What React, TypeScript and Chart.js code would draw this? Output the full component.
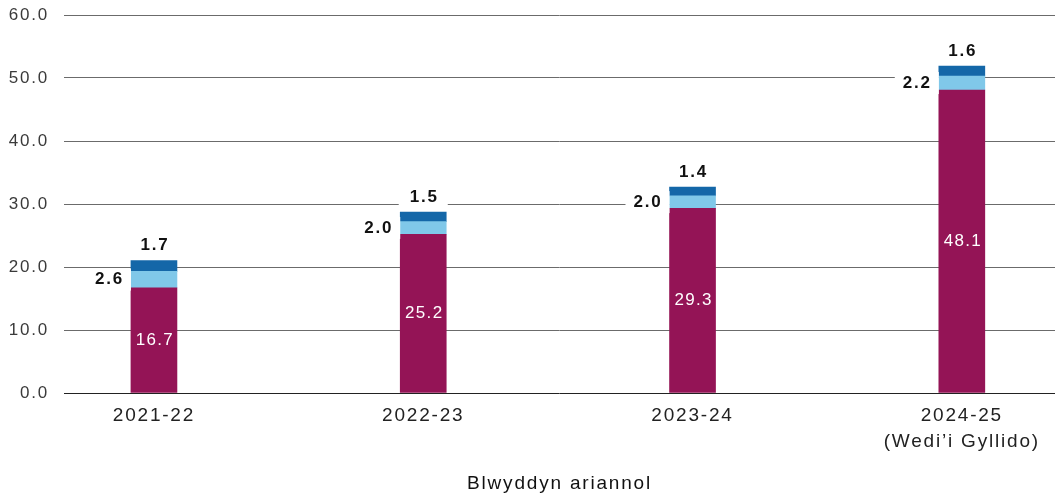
import { useEffect, useRef } from 'react';
import { Chart, registerables } from 'chart.js';

Chart.register(...registerables);

const categories: string[][] = [['2021-22'], ['2022-23'], ['2023-24'], ['2024-25', '(Wedi’i Gyllido)']];
const seriesMain = [16.7, 25.2, 29.3, 48.1];
const seriesLight = [2.6, 2.0, 2.0, 2.2];
const seriesDark = [1.7, 1.5, 1.4, 1.6];
const yTickValues = [0, 10, 20, 30, 40, 50, 60];
const xTitle = 'Blwyddyn ariannol';

const FONT = '"Liberation Sans", Arial, Helvetica, sans-serif';
const LS = '1.8px';

const spacingPlugin = {
  id: 'spacing',
  beforeLayout(chart: any) {
    chart.ctx.letterSpacing = LS;
  },
  beforeDraw(chart: any) {
    chart.ctx.letterSpacing = LS;
  },
};

const labelPlugin = {
  id: 'barLabels',
  afterDatasetsDraw(chart: any) {
    const ctx = chart.ctx as CanvasRenderingContext2D;
    ctx.save();
    (ctx as any).letterSpacing = LS;
    chart.data.datasets.forEach((ds: any, di: number) => {
      const meta = chart.getDatasetMeta(di);
      meta.data.forEach((el: any, i: number) => {
        const { x, y, base, width } = el.getProps(['x', 'y', 'base', 'width'], true);
        const v = ds.data[i].y as number;
        const text = v.toFixed(1);
        ctx.textBaseline = 'middle';
        if (di === 0) {
          (ctx as any).letterSpacing = '1.3px';
          ctx.font = `17px ${FONT}`;
          ctx.fillStyle = '#ffffff';
          ctx.textAlign = 'center';
          ctx.fillText(text, x + 1, (y + base) / 2);
          (ctx as any).letterSpacing = LS;
        } else if (di === 1) {
          ctx.font = `bold 17px ${FONT}`;
          const w = ctx.measureText(text).width;
          const tx = x - width / 2 - 7;
          const cy = (y + base) / 2;
          ctx.fillStyle = '#ffffff';
          ctx.fillRect(tx - w - 8, cy - 11, w + 15, 22);
          ctx.fillStyle = '#111111';
          ctx.textAlign = 'right';
          ctx.fillText(text, tx, cy);
        } else {
          ctx.font = `bold 17px ${FONT}`;
          const w = ctx.measureText(text).width;
          const cy = y - 15;
          ctx.fillStyle = '#ffffff';
          ctx.fillRect(x - w / 2 - 10, cy - 10, w + 20, 20);
          ctx.fillStyle = '#111111';
          ctx.textAlign = 'center';
          ctx.fillText(text, x + 1, cy);
        }
      });
    });
    ctx.restore();
  },
};

export default function App() {
  const ref = useRef<HTMLCanvasElement | null>(null);

  useEffect(() => {
    if (!ref.current) return;
    const mk = (arr: number[]) => arr.map((v, i) => ({ x: i, y: v }));
    const chart = new Chart(ref.current, {
      type: 'bar',
      data: {
        datasets: [
          { label: 'a', data: mk(seriesMain) as any, backgroundColor: '#941456', barThickness: 46 },
          { label: 'b', data: mk(seriesLight) as any, backgroundColor: '#80C8E9', barThickness: 46 },
          { label: 'c', data: mk(seriesDark) as any, backgroundColor: '#1467A8', barThickness: 46 },
        ],
      },
      options: {
        animation: false,
        responsive: true,
        maintainAspectRatio: false,
        layout: { padding: { left: 0, right: 5, top: 15, bottom: 0 } },
        plugins: {
          legend: { display: false },
          tooltip: { enabled: false },
        },
        scales: {
          x: {
            type: 'linear',
            stacked: true,
            offset: false,
            min: -0.334,
            max: 3.346,
            afterBuildTicks: (scale: any) => {
              scale.ticks = categories.map((_, i) => ({ value: i }));
            },
            afterFit: (scale: any) => {
              scale.height = 104;
              scale.paddingLeft = 0;
              scale.paddingRight = 0;
            },
            grid: { display: false, drawTicks: false },
            border: { display: false },
            ticks: {
              padding: 10,
              color: '#222',
              font: { family: FONT, size: 19, lineHeight: 1.35 },
              maxRotation: 0,
              autoSkip: false,
              callback: (value: any) => categories[value as number] ?? '',
            },
            title: {
              display: true,
              text: xTitle,
              color: '#111',
              font: { family: FONT, size: 19, lineHeight: 1.2 },
              padding: { top: 0, bottom: 2 },
            },
          },
          y: {
            stacked: true,
            min: 0,
            max: 60,
            afterBuildTicks: (scale: any) => {
              scale.ticks = yTickValues.map((v) => ({ value: v }));
            },
            afterFit: (scale: any) => {
              scale.width = 64;
              scale.paddingTop = 0;
              scale.paddingBottom = 0;
            },
            border: { display: false },
            grid: {
              drawTicks: false,
              color: (c: any) => (c.tick && c.tick.value === 0 ? '#222' : '#6b6b6b'),
              lineWidth: 1,
            },
            ticks: {
              padding: 15,
              color: '#3a3a3a',
              font: { family: FONT, size: 17 },
              callback: (value: any) => Number(value).toFixed(1),
            },
          },
        },
      },
      plugins: [spacingPlugin, labelPlugin],
    });
    return () => chart.destroy();
  }, []);

  return (
    <div style={{ position: 'fixed', left: 0, top: 0, width: 1060, height: 497, background: '#fff' }}>
      <canvas ref={ref} />
    </div>
  );
}
